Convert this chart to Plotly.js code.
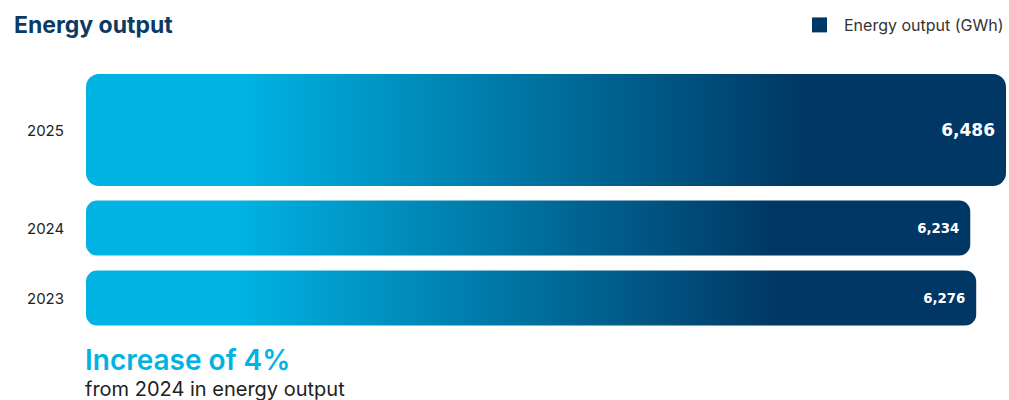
<!DOCTYPE html>
<html>
<head>
<meta charset="utf-8">
<script src="https://cdn.plot.ly/plotly-3.0.1.min.js"></script>
<style>
  html, body { margin: 0; padding: 0; background: #ffffff; }
  #chart { width: 1009px; height: 400px; }
</style>
</head>
<body>
<div id="chart"></div>
<svg width="0" height="0" style="position:absolute">
  <defs>
    <linearGradient id="barGrad" x1="0" y1="0" x2="1" y2="0">
      <stop offset="0" stop-color="#00B3E3"/>
      <stop offset="0.17" stop-color="#00B3E3"/>
      <stop offset="0.78" stop-color="#003764"/>
      <stop offset="1" stop-color="#003764"/>
    </linearGradient>
  </defs>
</svg>
<script>
// ---- data ----
const years = ['2023', '2024', '2025'];
const energyOutput = [6276, 6234, 6486];
const seriesName = 'Energy output (GWh)';
const chartTitle = 'Energy output';

// ---- styles ----
const barWidths = [0.786, 0.786, 1.6];
const barOffsets = [-0.393, -0.393, -0.4];
const labelSizes = [13.3, 13.3, 17];
const cornerRadii = [11, 11, 13];
const cyan = '#00B3E3';
const navy = '#003764';
const pxPerCat = 70;

const fmt = v => v.toLocaleString('en-US');
const latest = energyOutput[2], prev = energyOutput[1];
const pct = Math.round((latest - prev) / prev * 100);

const trace = {
  type: 'bar',
  orientation: 'h',
  name: seriesName,
  y: years,
  x: energyOutput,
  width: barWidths,
  offset: barOffsets,
  marker: { color: navy, cornerradius: 11, line: { width: 0 } },
  text: energyOutput.map(fmt),
  textposition: 'inside',
  insidetextanchor: 'end',
  textangle: 0,
  textfont: { family: '"DejaVu Sans", sans-serif', color: '#ffffff', size: labelSizes, weight: 700 },
  hoverinfo: 'skip',
  showlegend: true
};

// year labels, aligned with the bar centres
const yearAnnots = years.map((y, i) => ({
  xref: 'paper', x: 0, xanchor: 'right', xshift: -20,
  yref: 'y', y: i, yanchor: 'middle',
  yshift: (barOffsets[i] + barWidths[i] / 2) * pxPerCat,
  text: y, showarrow: false,
  font: { family: 'Inter, sans-serif', size: 15, color: '#222222' }
}));

const noteText =
  '<span style="font-size:28px;font-weight:600;color:' + cyan + '">Increase of ' + pct + '%</span>' +
  '<br>from ' + years[1] + ' in energy output';

const layout = {
  width: 1009, height: 400,
  margin: { l: 86, r: 3, t: 67, b: 67, pad: 0 },
  paper_bgcolor: '#ffffff', plot_bgcolor: '#ffffff',
  title: {
    text: chartTitle,
    xref: 'container', x: 14 / 1009, xanchor: 'left',
    yref: 'container', y: 1 - 25 / 400, yanchor: 'middle',
    font: { family: 'Inter, sans-serif', size: 23, color: '#0C3A63', weight: 700 }
  },
  xaxis: { range: [0, 6486], visible: false, fixedrange: true },
  yaxis: { type: 'category', range: [-0.5, 3.3], showticklabels: false, showgrid: false, zeroline: false, showline: false, fixedrange: true },
  showlegend: true,
  legend: {
    orientation: 'h',
    xref: 'container', x: 1, xanchor: 'right',
    yref: 'container', y: 1 - 8 / 400, yanchor: 'top',
    font: { family: 'Inter, sans-serif', size: 16, color: '#333333' },
    bgcolor: 'rgba(0,0,0,0)'
  },
  annotations: yearAnnots.concat([
    {
      xref: 'paper', x: 0, xanchor: 'left', xshift: -3,
      yref: 'paper', y: -8 / 266, yanchor: 'top',
      align: 'left',
      text: noteText, showarrow: false,
      font: { family: 'Inter, sans-serif', size: 20, color: '#222222' }
    }
  ])
};

function roundedRect(b, r) {
  const x = b.x, y = b.y, w = b.width, h = b.height;
  r = Math.min(r, w / 2, h / 2);
  return 'M' + (x + r) + ',' + y +
    'H' + (x + w - r) + 'A' + r + ',' + r + ' 0 0 1 ' + (x + w) + ',' + (y + r) +
    'V' + (y + h - r) + 'A' + r + ',' + r + ' 0 0 1 ' + (x + w - r) + ',' + (y + h) +
    'H' + (x + r) + 'A' + r + ',' + r + ' 0 0 1 ' + x + ',' + (y + h - r) +
    'V' + (y + r) + 'A' + r + ',' + r + ' 0 0 1 ' + (x + r) + ',' + y + 'Z';
}

Plotly.newPlot('chart', [trace], layout, { displayModeBar: false, staticPlot: true }).then(gd => {
  gd.querySelectorAll('.barlayer .point path').forEach((p, i) => {
    const b = p.getBBox();
    p.setAttribute('d', roundedRect(b, cornerRadii[i]));
    p.style.fill = 'url(#barGrad)';
  });
  gd.querySelectorAll('.legendpoints path').forEach(p => {
    p.setAttribute('d', 'M-12,-7.5h15v15h-15Z');
    p.style.fill = navy;
    p.style.stroke = 'none';
  });
});
</script>
</body>
</html>
